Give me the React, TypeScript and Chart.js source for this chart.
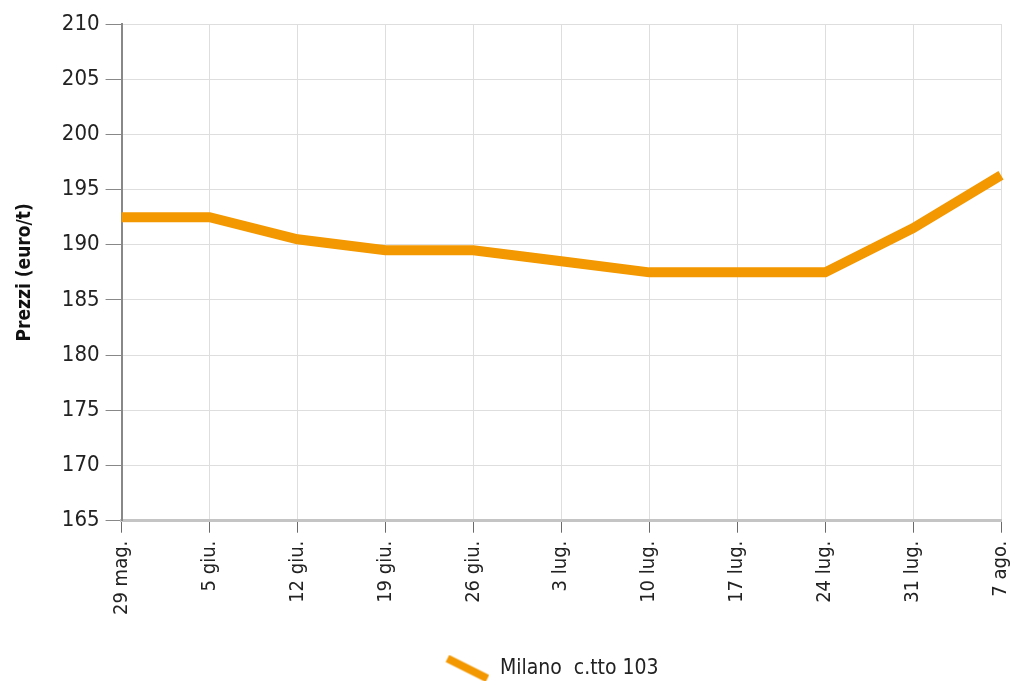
import React, { useEffect, useRef } from "react";
import { Chart, registerables } from "chart.js";

Chart.register(...registerables);

const categories = ["29 mag.", "5 giu.", "12 giu.", "19 giu.", "26 giu.", "3 lug.", "10 lug.", "17 lug.", "24 lug.", "31 lug.", "7 ago."];
const milanoValues = [192.5, 192.5, 190.5, 189.5, 189.5, 188.5, 187.5, 187.5, 187.5, 191.5, 196.3];
const seriesLabel = "Milano  c.tto 103";
const yTitle = "Prezzi (euro/t)";

const FONT = "'Liberation Sans Narrow', 'DejaVu Sans Condensed', 'Arial Narrow', sans-serif";
const ORANGE = "#F39800";

function makeMarker(): HTMLCanvasElement {
  const c = document.createElement("canvas");
  c.width = 118;
  c.height = 28;
  const ctx = c.getContext("2d")!;
  ctx.strokeStyle = ORANGE;
  ctx.lineWidth = 8;
  ctx.lineCap = "butt";
  ctx.beginPath();
  ctx.moveTo(76, 4);
  ctx.lineTo(116, 24);
  ctx.stroke();
  return c;
}

export default function App() {
  const ref = useRef<HTMLCanvasElement>(null);
  useEffect(() => {
    if (!ref.current) return;
    const marker = makeMarker();
    const chart = new Chart(ref.current, {
      type: "line",
      data: {
        labels: categories,
        datasets: [
          {
            label: seriesLabel,
            data: milanoValues,
            borderColor: ORANGE,
            backgroundColor: ORANGE,
            borderWidth: 10,
            pointRadius: 0,
            pointHoverRadius: 0,
            tension: 0,
            fill: false,
          },
        ],
      },
      options: {
        animation: false,
        responsive: false,
        maintainAspectRatio: false,
        layout: { padding: { top: 24, right: 0, left: 14, bottom: -8 } },
        plugins: {
          tooltip: { enabled: false },
          legend: {
            position: "bottom",
            labels: {
              usePointStyle: true,
              pointStyle: marker as any,
              pointStyleWidth: 118,
              color: "#222",
              font: { family: FONT, size: 21 },
              padding: 3,
            },
          },
        },
        scales: {
          x: {
            type: "category",
            offset: false,
            afterFit: (scale: any) => {
              scale.height += 32;
              scale.paddingRight = 15;
            },
            grid: { color: "#dedede", tickColor: "#6a6a6a", tickLength: 12, lineWidth: 1 },
            border: { color: "#c4c4c4", width: 3 },
            ticks: {
              minRotation: 90,
              maxRotation: 90,
              padding: 8,
              color: "#222",
              font: { family: FONT, size: 20 },
            },
          },
          y: {
            min: 165,
            max: 210,
            grid: { color: "#dedede", tickColor: "#888", tickLength: 16, lineWidth: 1 },
            border: { color: "#888", width: 2 },
            ticks: {
              stepSize: 5,
              padding: 6,
              color: "#222",
              font: { family: FONT, size: 22 },
            },
            title: {
              display: true,
              text: yTitle,
              color: "#111",
              font: { family: FONT, size: 19, weight: "bold" },
              padding: { top: 0, bottom: 19 },
            },
          },
        },
      },
    });
    return () => chart.destroy();
  }, []);
  return (
    <div style={{ position: "absolute", left: 0, top: 0, width: 1016, height: 681, background: "#fff" }}>
      <canvas ref={ref} width={1016} height={681} style={{ width: 1016, height: 681 }} />
    </div>
  );
}
